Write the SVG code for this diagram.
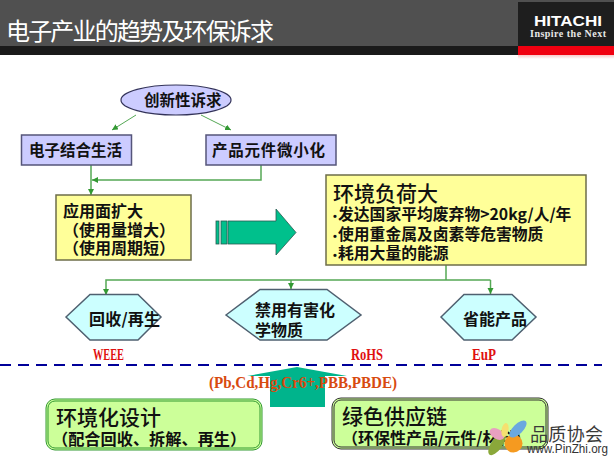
<svg xmlns="http://www.w3.org/2000/svg" width="614" height="460" viewBox="0 0 614 460">
<defs>
<marker id="ah" markerWidth="7" markerHeight="7" refX="6" refY="3" orient="auto" markerUnits="userSpaceOnUse"><path d="M0,0 L6,3 L0,6 Z" fill="#339933"/></marker>
<linearGradient id="fade" x1="0" y1="0" x2="0" y2="1"><stop offset="0" stop-color="#f8c8c8"/><stop offset="1" stop-color="#ffffff"/></linearGradient>
</defs>
<style>
.cjk{font-family:"Noto Sans CJK SC","Noto Sans CJK JP",sans-serif;fill:#111}
.b{font-weight:700;font-size:15.5px}
.m{font-weight:700;font-size:16px}
.big{font-weight:500;font-size:21px}
.bul{font-family:"Liberation Sans",sans-serif;font-weight:700;font-size:11px;fill:#111}
.lab{font-family:"Liberation Serif",serif;font-weight:700;font-size:17px;fill:#e01010}
.conn{fill:none;stroke:#55a855;stroke-width:1.5}
.hex{fill:#ccffff;stroke:#4f6070;stroke-width:1.5}
.blue{fill:#ccccff;stroke:#55557a;stroke-width:1.5}
.yel{fill:#ffff99;stroke:#6e6e4a;stroke-width:1.5}
</style>
<rect width="614" height="460" fill="#ffffff"/>
<g id="header">
<rect x="0" y="0" width="614" height="46" fill="#505050"/>
<rect x="0" y="46" width="614" height="9" fill="#1a1a1a"/>
<rect x="518" y="2" width="96" height="44" fill="#1e1e1e"/>
<rect x="518" y="46" width="96" height="9" fill="#f00010"/>
<rect x="518" y="55" width="96" height="4" fill="url(#fade)"/>
<text x="6" y="40" font-family="'Noto Sans CJK SC',sans-serif" font-size="24" fill="#ffffff" textLength="268">电子产业的趋势及环保诉求</text>
<text x="534" y="26" font-family="'Liberation Sans',sans-serif" font-weight="700" font-size="14.500" fill="#ffffff" textLength="68" lengthAdjust="spacingAndGlyphs">HITACHI</text>
<text x="530" y="37" font-family="'Liberation Serif',serif" font-weight="700" font-size="10" fill="#e8e8e8" textLength="76">Inspire the Next</text>
</g>
<g id="connectors">
<path class="conn" style="stroke-width:1" d="M136,115 L112,130" marker-end="url(#ah)"/>
<path class="conn" style="stroke-width:1" d="M201,115 L231,130" marker-end="url(#ah)"/>
<path class="conn" d="M91,165 V195" marker-end="url(#ah)"/>
<path class="conn" d="M261,165 V180 H92" marker-end="url(#ah)"/>
<path class="conn" d="M446,265 V280"/>
<path class="conn" d="M490.500,280 H106 V295" marker-end="url(#ah)"/>
<path class="conn" d="M291,280 V289" marker-end="url(#ah)"/>
<path class="conn" d="M490.500,280 V294" marker-end="url(#ah)"/>
<path d="M0,365 H602" fill="none" stroke="#000099" stroke-width="2" stroke-dasharray="11,7"/>
</g>
<g id="n-innovation">
<ellipse cx="176" cy="100" rx="55" ry="15" fill="#ccccff" stroke="#33335a" stroke-width="1.2"/>
<text class="cjk b" x="144" y="106">创新性诉求</text>
</g>
<g id="n-life">
<rect class="blue" x="21.500" y="135" width="110" height="30"/>
<text class="cjk b" x="29" y="156">电子结合生活</text>
</g>
<g id="n-mini">
<rect class="blue" x="206" y="135" width="130" height="30"/>
<text class="cjk b" x="212" y="156" textLength="113">产品元件微小化</text>
</g>
<g id="n-app">
<rect class="yel" x="56" y="195" width="135" height="65"/>
<text class="cjk m" x="63" y="217">应用面扩大</text>
<text class="cjk m" x="63" y="236">（使用量增大）</text>
<text class="cjk m" x="63" y="254">（使用周期短）</text>
</g>
<g id="n-arrow">
<rect x="216" y="221" width="3" height="23" fill="#00c08c" stroke="#2a5a50" stroke-width="0.800"/>
<rect x="221" y="221" width="6" height="23" fill="#00c08c" stroke="#2a5a50" stroke-width="0.800"/>
<path d="M228,221 H276 V209 L296,232.500 L276,255 V244 H228 Z" fill="#00c08c" stroke="#2a5a50" stroke-width="0.800"/>
</g>
<g id="n-load">
<rect class="yel" x="326" y="175" width="260" height="90"/>
<text class="cjk big" x="333" y="201">环境负荷大</text>
<text class="cjk m" y="220" style="font-size:15.800px"><tspan class="bul" x="333">•</tspan><tspan x="338">发达国家平均废弃物&gt;20kg/人/年</tspan></text>
<text class="cjk m" y="240" style="font-size:15.800px"><tspan class="bul" x="333">•</tspan><tspan x="338">使用重金属及卤素等危害物质</tspan></text>
<text class="cjk m" y="259" style="font-size:15.800px"><tspan class="bul" x="333">•</tspan><tspan x="338">耗用大量的能源</tspan></text>
</g>
<g id="n-recycle">
<polygon class="hex" points="66,317 90,294.500 138,294.500 161,317 138,340 90,340"/>
<text class="cjk m" x="89" y="325" textLength="71">回收/再生</text>
</g>
<g id="n-ban">
<polygon class="hex" points="226,315 260,289.500 327,289.500 361,315 327,340 260,340"/>
<text class="cjk m" x="255" y="316">禁用有害化</text>
<text class="cjk m" x="255" y="336">学物质</text>
</g>
<g id="n-save">
<polygon class="hex" points="441,317 464,294.500 512,294.500 536,317 512,340 464,340"/>
<text class="cjk m" x="463" y="325">省能产品</text>
</g>
<g id="labels">
<text class="lab" x="93" y="360" textLength="31" lengthAdjust="spacingAndGlyphs">WEEE</text>
<text class="lab" x="351" y="360" textLength="32" lengthAdjust="spacingAndGlyphs">RoHS</text>
<text class="lab" x="472" y="360" textLength="24" lengthAdjust="spacingAndGlyphs">EuP</text>
</g>
<g id="n-up">
<path d="M297,367 L347,376 H325 V407 H270 V376 H247 Z" fill="#00b48c"/>
<text x="209" y="388" font-family="'Liberation Serif',serif" font-weight="700" font-size="16" fill="#d84a10" textLength="188" lengthAdjust="spacingAndGlyphs">(Pb,Cd,Hg,Cr6+,PBB,PBDE)</text>
</g>
<g id="n-eco">
<rect x="46" y="399" width="216" height="51" rx="9" fill="#ccff99" stroke="#339933" stroke-width="1"/>
<rect x="48" y="401" width="212" height="47" rx="7" fill="none" stroke="#339933" stroke-width="1"/>
<text class="cjk big" x="56" y="425">环境化设计</text>
<text class="cjk m" x="52" y="445" style="font-size:16.200px">（配合回收、拆解、再生）</text>
</g>
<g id="n-green">
<rect x="332" y="398" width="216" height="51" rx="9" fill="#ccff99" stroke="#333333" stroke-width="1"/>
<rect x="334" y="400" width="212" height="47" rx="7" fill="none" stroke="#333333" stroke-width="1"/>
<text class="cjk big" x="342" y="424">绿色供应链</text>
<text class="cjk m" x="342" y="444">（环保性产品/元件/材料）</text>
</g>
<g id="watermark">
<ellipse cx="497" cy="444" rx="5.500" ry="13" transform="rotate(35 497 444)" fill="#8aa83a"/>
<ellipse cx="513.500" cy="443.500" rx="9" ry="9" fill="#f59a20"/>
<ellipse cx="497" cy="434" rx="5" ry="8" transform="rotate(-60 497 434)" fill="#e8a0c0"/>
<ellipse cx="505" cy="430" rx="3.500" ry="7" transform="rotate(10 505 430)" fill="#f5e070"/>
<ellipse cx="518" cy="429" rx="5" ry="11" transform="rotate(45 518 429)" fill="#6aa8e0"/>
<text x="530" y="441" font-family="'Noto Sans CJK SC',sans-serif" font-size="18" fill="#3a3a3a" textLength="73">品质协会</text>
<text x="527" y="453" font-family="'Liberation Sans',sans-serif" font-size="12" fill="#333333" textLength="81" lengthAdjust="spacingAndGlyphs">www.PinZhi.org</text>
</g>
</svg>
